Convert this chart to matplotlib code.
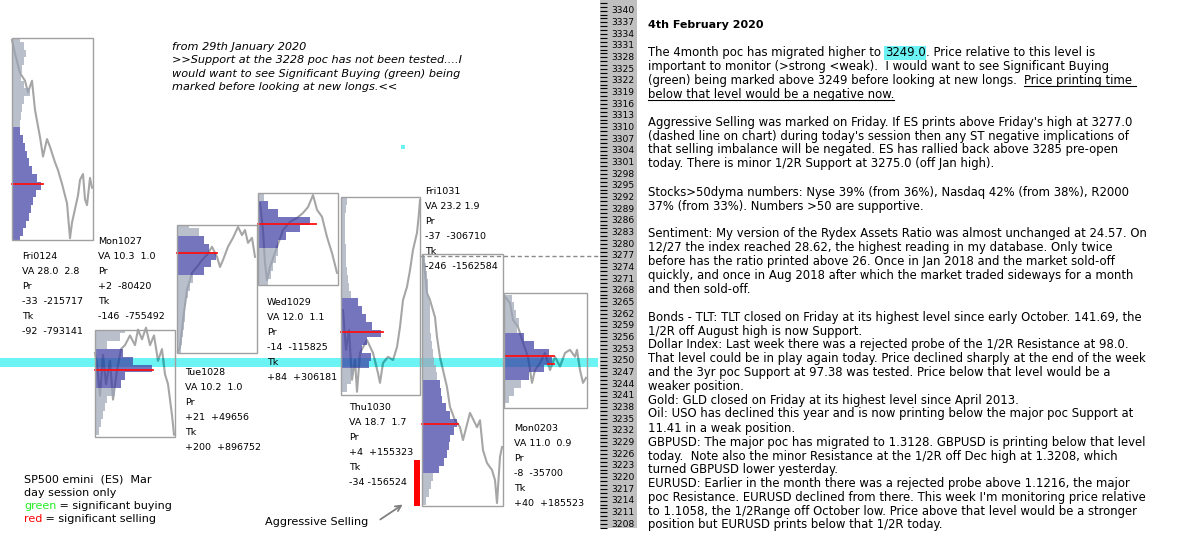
import numpy as np
import matplotlib
matplotlib.use("Agg")
import matplotlib.pyplot as plt
from matplotlib.patches import Rectangle
from matplotlib.lines import Line2D

W, H = 1200, 556

# ---------------- data ----------------
days = ["Fri0124", "Mon1027", "Tue1028", "Wed1029", "Thu1030", "Fri1031", "Mon0203"]
day_high = [3333, 3258, 3285, 3293, 3292.2, 3277.4, 3267.4]
day_low = [3281, 3230.5, 3252, 3269.5, 3241.2, 3212.6, 3237.8]
poc = [3295.5, 3247.5, 3277.7, 3285.1, 3257.4, 3233.7, 3251.3]
va_high = [3310, 3253, 3282.8, 3291.1, 3266.5, 3245.5, 3257.2]
va_low = [3281, 3242.5, 3272.5, 3279.3, 3248.4, 3221.5, 3245.9]

# volume profile, one value per 2 points from the top level down
prof_top = [3333, 3258, 3285, 3292, 3291, 3276, 3266]
fri0124_prof = [8, 12, 14, 12, 10, 9, 12, 18, 12, 10, 9, 8, 8, 11, 13, 15, 17, 20, 25, 29, 24, 21, 19, 17, 14, 11, 8]
mon1027_prof = [30, 25, 12, 28, 38, 57, 30, 26, 20, 12, 10, 8, 6, 4]
tue1028_prof = [12, 22, 27, 32, 39, 34, 27, 16, 13, 11, 9, 8, 8, 7, 6, 5, 4]
wed1029_prof = [6, 10, 20, 52, 42, 28, 20, 20, 18, 15, 13, 10]
thu1030_prof = [6, 5, 4, 4, 4, 4, 5, 5, 5, 6, 7, 8, 10, 17, 21, 25, 31, 40, 26, 21, 30, 28, 12, 10, 6]
fri1031_prof = [3, 4, 5, 6, 6, 7, 8, 8, 8, 8, 9, 10, 11, 12, 14, 15, 18, 19, 20, 24, 28, 35, 32, 28, 27, 25, 22, 17, 11, 9, 7, 4]
mon0203_prof = [8, 10, 12, 15, 13, 20, 30, 45, 48, 40, 25, 17, 10, 5]
profiles = [fri0124_prof, mon1027_prof, tue1028_prof, wed1029_prof, thu1030_prof, fri1031_prof, mon0203_prof]
poc_len = [31, 58, 40, 58, 42, 36, 50]

# intraday price path: 5-min bar index, price
fri0124_t = [0, 3, 5, 8, 13, 16, 20, 23, 28, 31, 35, 38, 43, 46, 50, 55, 58, 60, 63, 66, 68, 71, 73, 75, 78, 80]
fri0124_p = [3332.5, 3329, 3327, 3324, 3322, 3319, 3322, 3314.5, 3307.5, 3302.5, 3307, 3305, 3301, 3299, 3295.5,
             3290.5, 3281.5, 3285.5, 3289, 3292.5, 3296.5, 3298, 3291.5, 3290, 3297, 3294.5]
mon1027_t = [0, 2, 5, 8, 11, 15, 18, 22, 26, 30, 35, 40, 43, 47, 51, 55, 59, 63, 67, 70, 73, 75, 77, 79]
mon1027_p = [3252, 3249, 3241, 3251.5, 3244, 3250, 3240, 3247.5, 3253, 3254, 3256.5, 3254, 3258, 3255.5, 3258.5,
             3254, 3256.5, 3250, 3253, 3246.5, 3244, 3240, 3236, 3231]
tue1028_t = [1, 3, 6, 10, 15, 20, 25, 30, 35, 40, 43, 46, 51, 56, 61, 65, 68, 71, 75, 78]
tue1028_p = [3252.3, 3253.5, 3260.5, 3268.2, 3272.6, 3274.1, 3275.9, 3277.2, 3279.3, 3276.7, 3274.1, 3275.9,
             3279.3, 3281.6, 3284.4, 3282.3, 3283.6, 3280.3, 3281.6, 3276.7]
wed1029_t = [2, 5, 7, 9, 12, 19, 25, 32, 39, 45, 50, 55, 59, 64, 69, 74, 79]
wed1029_p = [3290.5, 3283.6, 3275.1, 3270.7, 3274.1, 3279.3, 3283.6, 3285.7, 3286.7, 3288, 3289.5, 3292.6,
             3288.8, 3287, 3281.8, 3277.7, 3272.6]
thu1030_t = [2, 5, 8, 11, 14, 16, 19, 26, 32, 37, 39, 42, 47, 52, 56, 59, 62, 66, 69, 72, 76, 78, 79]
thu1030_p = [3263, 3252.8, 3257.9, 3245.1, 3250.2, 3242, 3252, 3255.3, 3252, 3246.8, 3244.3, 3249.4, 3251,
             3250.2, 3253.5, 3258.7, 3265.6, 3269, 3273.3, 3278.5, 3282.9, 3288, 3291.3]
fri1031_t = [1, 3, 5, 8, 13, 15, 18, 21, 25, 28, 33, 38, 41, 48, 55, 58, 61, 65, 70, 73, 75, 78, 80]
fri1031_p = [3276.9, 3272.6, 3267.4, 3265.6, 3261.2, 3256.1, 3250.9, 3247.6, 3243.2, 3238.1, 3234.7, 3232.9,
             3229.6, 3236.6, 3232.9, 3234.7, 3227, 3223.7, 3221.9, 3219.3, 3213.4, 3225.3, 3227.8]
mon0203_t = [1, 6, 9, 14, 19, 24, 28, 31, 36, 41, 46, 51, 56, 61, 66, 71, 73, 76, 79, 82]
mon0203_p = [3266.4, 3264.8, 3260.5, 3258.7, 3254.6, 3251, 3244.3, 3247.6, 3249.4, 3252, 3247.6, 3251, 3248.5,
             3252, 3252.8, 3251, 3252.8, 3247.6, 3244.3, 3245.6]
paths_t = [fri0124_t, mon1027_t, tue1028_t, wed1029_t, thu1030_t, fri1031_t, mon0203_t]
paths_p = [fri0124_p, mon1027_p, tue1028_p, wed1029_p, thu1030_p, fri1031_p, mon0203_p]

day_stats = [
    ["Fri0124", "VA 28.0  2.8", "Pr", "-33  -215717", "Tk", "-92  -793141"],
    ["Mon1027", "VA 10.3  1.0", "Pr", "+2  -80420", "Tk", "-146  -755492"],
    ["Tue1028", "VA 10.2  1.0", "Pr", "+21  +49656", "Tk", "+200  +896752"],
    ["Wed1029", "VA 12.0  1.1", "Pr", "-14  -115825", "Tk", "+84  +306181"],
    ["Thu1030", "VA 18.7  1.7", "Pr", "+4  +155323", "Tk", "-34 -156524"],
    ["Fri1031", "VA 23.2 1.9", "Pr", "-37  -306710", "Tk", "-246  -1562584"],
    ["Mon0203", "VA 11.0  0.9", "Pr", "-8  -35700", "Tk", "+40  +185523"],
]

poc_4month = 3249.0
band = (3248.3, 3250.6)
fri_high = 3277.0
selling_bar = (3212.6, 3224.4)
price_ticks = list(range(3208, 3341, 3))

# ---------------- layout ----------------
box_left = [12, 95, 177, 258, 341, 422, 504]
box_w = [81, 80, 80, 80, 79, 81, 83]
label_xy = [(22, 256), (98, 241), (185, 372), (267, 302), (349, 407), (425, 191), (514, 428)]

PXPT = 3.889
def ypx_to_price(y):
    return 3340 - (y - 10.7) / PXPT

CYAN = "#6CF4F4"
VA_BLUE = "#3B3BA2"
OUT_GRAY = "#9CA5B6"
LINE = "#A6A6A6"
TEAL = "#2AAFAF"
RED = "#FF1010"
BOX = "#A0A0A0"

fig = plt.figure(figsize=(W / 100, H / 100), dpi=100)
ax = fig.add_axes([0, 0, 600 / W, 1])
ax.set_xlim(0, 600)
ax.set_ylim(ypx_to_price(H), ypx_to_price(0))
ax.axis("off")

ax.axhspan(band[0], band[1], xmax=598 / 600, color=CYAN, lw=0, zorder=1)
band_clip = Rectangle((0, band[0]), 600, band[1] - band[0], transform=ax.transData)

for i in range(len(days)):
    left, w = box_left[i], box_w[i]
    hi, lo = day_high[i], day_low[i]
    clip = Rectangle((left, lo), w, hi - lo, transform=ax.transData)
    tt = left + np.array(paths_t[i])
    ax.plot(tt, paths_p[i], color=LINE, lw=1.5, zorder=2)
    l2, = ax.plot(tt, paths_p[i], color=TEAL, lw=1.5, zorder=2.1)
    l2.set_clip_path(band_clip)

    prof = profiles[i]
    levels = prof_top[i] - 2 * np.arange(len(prof))
    cols = [VA_BLUE if va_low[i] <= lv <= va_high[i] else OUT_GRAY for lv in levels]
    bars = ax.barh(levels, prof, height=2, left=left, color=cols, alpha=0.7, lw=0, zorder=3)
    for b in bars:
        b.set_clip_path(clip)

    ax.plot([left, left + poc_len[i]], [poc[i], poc[i]], color=RED, lw=1.3, zorder=5)
    ax.add_patch(Rectangle((left, lo), w, hi - lo, fill=False, ec=BOX, lw=1, zorder=6))

# small extra red mark on Mon0203
ax.plot([548, 554], [3249.2, 3249.2], color=RED, lw=1.3, zorder=5)
# stray cyan dot
ax.plot([403], [3305], "s", color=CYAN, ms=3, mew=0)

ax.plot([420, 600], [fri_high, fri_high], color="#8A8A8A", lw=1, ls=(0, (3, 2)), zorder=4)
ax.add_patch(Rectangle((414, selling_bar[0]), 6, selling_bar[1] - selling_bar[0], color="#FF0000", lw=0, zorder=6))
ax.annotate("", xy=(405, ypx_to_price(503)), xytext=(378, ypx_to_price(521)),
            arrowprops=dict(arrowstyle="->", color="#808080", lw=1.3))

# price scale column
ax2 = fig.add_axes([600 / W, (H - 528) / H, 37 / W, 528 / H])
ax2.set_facecolor("#C0C0C0")
ax2.set_xlim(0, 1)
ax2.set_ylim(ypx_to_price(528), ypx_to_price(0))
for s in ax2.spines.values():
    s.set_visible(False)
ax2.set_xticks([])
ax2.set_yticks(price_ticks)
ax2.set_yticklabels([])
ax2.set_yticks(range(3207, 3343), minor=True)
ax2.tick_params(axis="y", which="both", direction="in", length=5, width=0.8, color="black")
for v in price_ticks:
    ax2.text(11 / 37, v, str(v), fontsize=6.6, va="center", ha="left")

# ---------------- text ----------------
renderer = fig.canvas.get_renderer()

def text_w(s, **kw):
    t = fig.text(0, 0, "|" + s + "|", **kw)
    w1 = t.get_window_extent(renderer).width
    t.set_text("||")
    w2 = t.get_window_extent(renderer).width
    t.remove()
    return w1 - w2

def put(x, y, segs, size=8.4, **kw):
    base = y + 0.36 * size * 100 / 72
    for s, kind in segs:
        extra = dict(kw)
        if kind in ("green", "red"):
            extra["color"] = {"green": "#22EE22", "red": "#FF0000"}[kind]
        t = fig.text(x / W, 1 - base / H, s, va="baseline", ha="left", fontsize=size, **extra)
        w = text_w(s, fontsize=size, **kw)
        if kind == "hl":
            t.set_bbox(dict(facecolor=CYAN, edgecolor="none", pad=0.3))
        if kind == "u":
            fig.add_artist(Line2D([x / W, (x + w) / W], [1 - (y + 5.5) / H] * 2,
                                  transform=fig.transFigure, color="black", lw=0.8))
        x += w

for (lx, ly), lines in zip(label_xy, day_stats):
    for k, s in enumerate(lines):
        put(lx, ly + 15 * k, [(s, "")], size=6.8)

put(172, 46, [("from 29th January 2020", "")], size=8.1, style="italic")
put(172, 59, [(">>Support at the 3228 poc has not been tested....I", "")], size=8.1, style="italic")
put(172, 73, [("would want to see Significant Buying (green) being", "")], size=8.1, style="italic")
put(172, 86, [("marked before looking at new longs.<<", "")], size=8.1, style="italic")

put(24, 478, [("SP500 emini  (ES)  Mar", "")], size=8.0)
put(24, 492, [("day session only", "")], size=8.0)
put(24, 505, [("green", "green"), (" = significant buying", "")], size=8.0)
put(24, 518, [("red", "red"), (" = significant selling", "")], size=8.0)
put(265, 521, [("Aggressive Selling", "")], size=8.1)

RX = 648
put(RX, 24, [("4th February 2020", "")], size=8.0, fontweight="bold")
right_lines = [
    (52, [("The 4month poc has migrated higher to ", ""), ("3249.0", "hl"), (". Price relative to this level is", "")]),
    (66, [("important to monitor (>strong <weak).  I would want to see Significant Buying", "")]),
    (80, [("(green) being marked above 3249 before looking at new longs.  ", ""), ("Price printing time ", "u")]),
    (94, [("below that level would be a negative now.", "u")]),
    (122, [("Aggressive Selling was marked on Friday. If ES prints above Friday's high at 3277.0", "")]),
    (136, [("(dashed line on chart) during today's session then any ST negative implications of", "")]),
    (149, [("that selling imbalance will be negated. ES has rallied back above 3285 pre-open", "")]),
    (163, [("today. There is minor 1/2R Support at 3275.0 (off Jan high).", "")]),
    (192, [("Stocks>50dyma numbers: Nyse 39% (from 36%), Nasdaq 42% (from 38%), R2000", "")]),
    (206, [("37% (from 33%). Numbers >50 are supportive.", "")]),
    (233, [("Sentiment: My version of the Rydex Assets Ratio was almost unchanged at 24.57. On", "")]),
    (247, [("12/27 the index reached 28.62, the highest reading in my database. Only twice", "")]),
    (261, [("before has the ratio printed above 26. Once in Jan 2018 and the market sold-off", "")]),
    (275, [("quickly, and once in Aug 2018 after which the market traded sideways for a month", "")]),
    (289, [("and then sold-off.", "")]),
    (317, [("Bonds - TLT: TLT closed on Friday at its highest level since early October. 141.69, the", "")]),
    (331, [("1/2R off August high is now Support.", "")]),
    (344, [("Dollar Index: Last week there was a rejected probe of the 1/2R Resistance at 98.0.", "")]),
    (358, [("That level could be in play again today. Price declined sharply at the end of the week", "")]),
    (372, [("and the 3yr poc Support at 97.38 was tested. Price below that level would be a", "")]),
    (386, [("weaker position.", "")]),
    (400, [("Gold: GLD closed on Friday at its highest level since April 2013.", "")]),
    (413, [("Oil: USO has declined this year and is now printing below the major poc Support at", "")]),
    (428, [("11.41 in a weak position.", "")]),
    (442, [("GBPUSD: The major poc has migrated to 1.3128. GBPUSD is printing below that level", "")]),
    (456, [("today.  Note also the minor Resistance at the 1/2R off Dec high at 1.3208, which", "")]),
    (469, [("turned GBPUSD lower yesterday.", "")]),
    (483, [("EURUSD: Earlier in the month there was a rejected probe above 1.1216, the major", "")]),
    (497, [("poc Resistance. EURUSD declined from there. This week I'm monitoring price relative", "")]),
    (511, [("to 1.1058, the 1/2Range off October low. Price above that level would be a stronger", "")]),
    (524, [("position but EURUSD prints below that 1/2R today.", "")]),
]
for y, segs in right_lines:
    put(RX, y, segs)

fig.savefig("out.png", dpi=100)
